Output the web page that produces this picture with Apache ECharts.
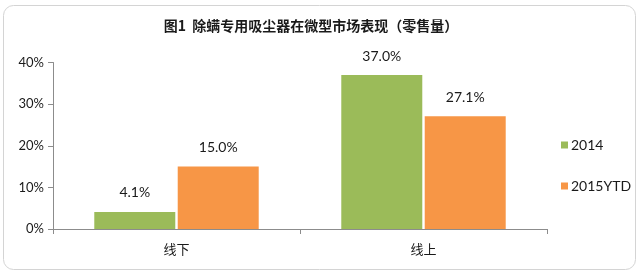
<!DOCTYPE html>
<html>
<head>
<meta charset="utf-8">
<script src="https://cdn.jsdelivr.net/npm/echarts@6/dist/echarts.min.js"></script>
<style>
html,body{margin:0;padding:0;background:#fff;}
#main{width:640px;height:275px;}
</style>
</head>
<body>
<div id="main"></div>
<script>
const titleText = '图1  除螨专用吸尘器在微型市场表现（零售量）';
const categories = ['线下', '线上'];
const seriesNames = ['2014', '2015YTD'];
const values2014 = [4.1, 37.0];
const values2015 = [15.0, 27.1];
const yTicks = [0, 10, 20, 30, 40];

const FONT = 'Lato, "Noto Sans CJK SC", sans-serif';
const chart = echarts.init(document.getElementById('main'), null, {renderer: 'canvas'});
chart.setOption({
  animation: false,
  backgroundColor: '#fff',
  graphic: [{
    type: 'rect',
    shape: {x: 3.5, y: 5.5, width: 632, height: 264, r: 10},
    style: {fill: 'none', stroke: '#d4d4d4', lineWidth: 1},
    z: -1
  }],
  title: {
    text: titleText,
    left: 306, top: 14,
    textAlign: 'center',
    textStyle: {fontSize: 14, fontWeight: 'bold', color: '#1a1a1a', fontFamily: '"Noto Sans CJK SC", sans-serif'}
  },
  legend: {
    orient: 'vertical',
    left: 556, top: 133,
    itemWidth: 7, itemHeight: 7, itemGap: 27,
    icon: 'rect',
    textStyle: {fontSize: 14, color: '#1a1a1a', fontFamily: FONT, padding: [0,0,0,-2]},
    data: seriesNames
  },
  grid: {left: 53, right: 93, top: 62.5, bottom: 46, containLabel: false},
  xAxis: {
    type: 'category',
    data: categories,
    axisLine: {lineStyle: {color: '#8c8c8c'}},
    axisTick: {show: true, length: 5, lineStyle: {color: '#8c8c8c'}},
    axisLabel: {fontSize: 13, color: '#1a1a1a', margin: 14, fontFamily: '"Noto Sans CJK SC", sans-serif'}
  },
  yAxis: {
    type: 'value',
    min: yTicks[0], max: yTicks[yTicks.length-1], interval: 10,
    splitLine: {show: false},
    axisLine: {show: true, lineStyle: {color: '#8c8c8c'}},
    axisTick: {show: true, length: 5, lineStyle: {color: '#8c8c8c'}},
    axisLabel: {fontSize: 13, color: '#1a1a1a', margin: 9, fontFamily: FONT, formatter: v => v + '%'}
  },
  series: [
    {
      name: seriesNames[0], type: 'bar', data: values2014,
      barWidth: 81, barGap: '3%',
      itemStyle: {color: '#9BBB59'},
      label: {show: true, position: 'top', distance: 12, fontSize: 14, color: '#1a1a1a', fontFamily: FONT, formatter: p => p.value.toFixed(1) + '%'}
    },
    {
      name: seriesNames[1], type: 'bar', data: values2015,
      barWidth: 81, barGap: '3%',
      itemStyle: {color: '#F79646'},
      label: {show: true, position: 'top', distance: 12, fontSize: 14, color: '#1a1a1a', fontFamily: FONT, formatter: p => p.value.toFixed(1) + '%'}
    }
  ]
});
</script>
</body>
</html>
